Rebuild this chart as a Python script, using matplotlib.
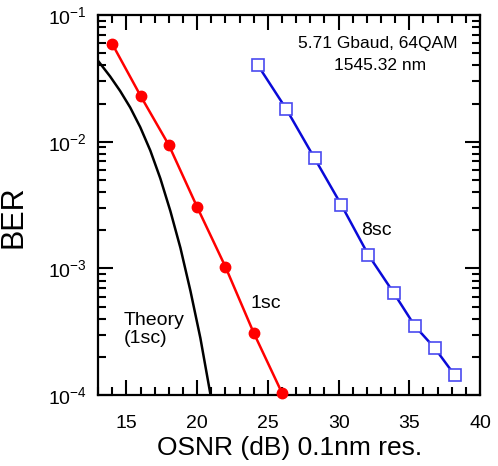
import matplotlib
matplotlib.use('Agg')
import matplotlib.pyplot as plt
from matplotlib.ticker import MultipleLocator, LogLocator, NullFormatter

plt.rcParams['font.family'] = ['Liberation Sans', 'DejaVu Sans']
plt.rcParams['mathtext.fontset'] = 'custom'
plt.rcParams['mathtext.rm'] = 'Liberation Sans'
plt.rcParams['mathtext.it'] = 'Liberation Sans'

# 1 subcarrier (measured)
osnr_1sc = [14, 16, 18, 20, 22, 24, 26]
ber_1sc = [0.059, 0.023, 0.0094, 0.00305, 0.00103, 0.00031, 0.000104]

# 8 subcarriers (measured)
osnr_8sc = [24.3, 26.3, 28.3, 30.2, 32.1, 33.9, 35.4, 36.8, 38.2]
ber_8sc = [0.040, 0.0181, 0.0074, 0.00316, 0.00128, 0.00064, 0.00035, 0.000235, 0.000144]

# theory curve (1sc)
osnr_th = [13.0, 13.85, 14.56, 15.27, 15.98, 16.69, 17.40, 18.11, 18.82, 19.53, 20.23, 20.95]
ber_th = [0.0434, 0.0327, 0.0251, 0.0186, 0.0130, 0.00851, 0.00512, 0.00283,
          0.00145, 0.000662, 0.000282, 0.0001]

fig = plt.figure(figsize=(4.98, 4.66), dpi=100)
ax = fig.add_axes([0.197, 0.152, 0.767, 0.816])

ax.plot(osnr_th, ber_th, color='black', lw=1.8)
ax.plot(osnr_1sc, ber_1sc, color='#ff0000', lw=1.8, marker='o', ms=7.5,
        mfc='#ff0000', mec='#ff0000', clip_on=False, zorder=3)
ax.plot(osnr_8sc, ber_8sc, color='#0a0ad8', lw=1.8, marker='s', ms=8.5,
        mfc='white', mec='#4a4af0', mew=1.2, clip_on=False, zorder=3)

ax.set_yscale('log')
ax.set_xlim(13, 40)
ax.set_ylim(1e-4, 1e-1)

ax.xaxis.set_major_locator(MultipleLocator(5))
ax.xaxis.set_minor_locator(MultipleLocator(1))
ax.yaxis.set_major_locator(LogLocator(base=10, numticks=10))
ax.yaxis.set_minor_locator(LogLocator(base=10, subs=range(2, 10), numticks=10))
ax.yaxis.set_minor_formatter(NullFormatter())

ax.tick_params(which='both', direction='in', top=True, right=True, width=1.5,
               labelsize=14, pad=8)
ax.tick_params(axis='x', which='major', pad=14)
ax.tick_params(which='major', length=11)
ax.tick_params(which='minor', length=6)
for s in ax.spines.values():
    s.set_linewidth(1.6)

ax.set_xlabel('OSNR (dB) 0.1nm res.', fontsize=19, labelpad=3)
ax.set_ylabel('BER', fontsize=22)
ax.yaxis.set_label_coords(-0.182, 0.47)

ax.text(32.8, 0.060, '5.71 Gbaud, 64QAM', fontsize=12.5, ha='center', va='center')
ax.text(32.9, 0.040, '1545.32 nm', fontsize=12.5, ha='center', va='center')
ax.text(31.6, 0.0020, '8sc', fontsize=14, ha='left', va='center')
ax.text(23.8, 0.00053, '1sc', fontsize=14, ha='left', va='center')
ax.text(14.8, 0.00033, 'Theory\n(1sc)', fontsize=14, ha='left', va='center',
        linespacing=1.1)

fig.savefig('out.png', dpi=100)
